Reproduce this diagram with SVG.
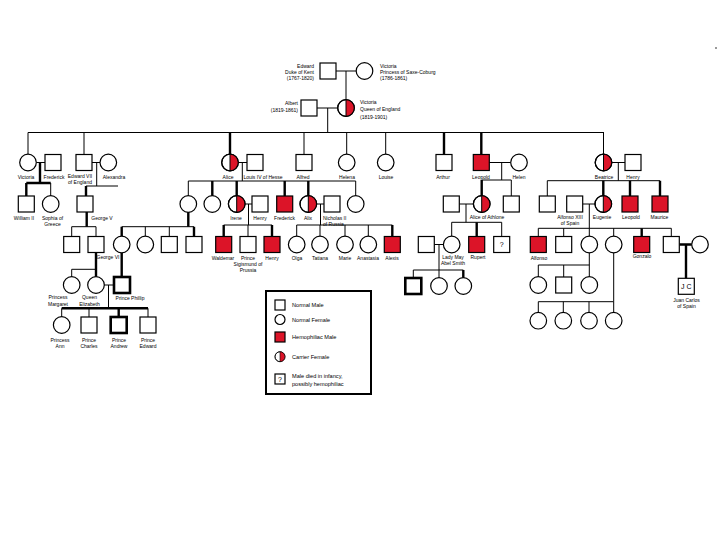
<svg xmlns="http://www.w3.org/2000/svg" xmlns:xlink="http://www.w3.org/1999/xlink" width="720" height="540" viewBox="0 0 720 540">
<style>
.bg{fill:#ffffff}
.sq{fill:#ffffff;stroke:#000;stroke-width:1.2}
.hm{fill:#dc1428;stroke:#000;stroke-width:1.2}
.ci{fill:#ffffff;stroke:#000;stroke-width:1.2}
.cf{fill:#dc1428;stroke:none}
.tk{stroke-width:2.6}
.ln path{fill:none;stroke:#000;stroke-width:1}
.ln path.k{stroke-width:2.4}
text{font-family:"Liberation Sans",Arial,sans-serif;font-size:5px;fill:#000}
.m{text-anchor:middle}
.e{text-anchor:end}
.lg{font-size:5.6px}
.q{font-size:7px;text-anchor:middle}
</style>
<defs>
<rect id="s" x="-8" y="-8" width="16" height="16" class="sq"/>
<rect id="h" x="-8" y="-8" width="16" height="16" class="hm"/>
<rect id="st" x="-8" y="-8" width="16" height="16" class="sq tk"/>
<circle id="c" r="8.3" class="ci"/>
<g id="cr"><circle r="8.3" class="ci"/><path d="M0,-8.3 A8.3,8.3 0 0 1 0,8.3 Z" class="cf"/><path d="M0,-8.3 V8.3" stroke="#000" stroke-width="1"/><circle r="8.3" fill="none" stroke="#000" stroke-width="1.2"/></g>
</defs>
<rect class="bg" x="0" y="0" width="720" height="540"/>
<path d="M715,48 H717" stroke="#000" stroke-width="0.8"/>

<g id="connectors" class="ln">
<path d="M336,71 H356.2 M346,71 V99.7"/>
<path d="M317,108 H337.7 M327.7,108 V132.5"/>
<path d="M28,132.5 H604"/>
<path d="M28,132.5 V154.2 M84,132.5 V154.5 M304,132.5 V154.5 M346.7,132.5 V154.2 M385.7,132.5 V154.2 M603.5,132.5 V154.2"/>
<path class="k" d="M230,132.5 V154.2 M444,132.5 V154.5 M481.3,132.5 V154.5"/>
<path d="M36.3,162.5 H45"/>
<path class="k" d="M40,162.5 V183 M26.3,183 H50.7 M26.3,183 V196"/>
<path d="M50.7,183 V195.7"/>
<path d="M92,162.5 H100 M96.7,162.5 V186 M86,186 H118"/>
<path class="k" d="M86,186 V196 M86.7,212 V226.7"/>
<path d="M71.7,226.7 H96 M71.7,226.7 V236.5 M96,226.7 V236.5"/>
<path d="M238.3,162.5 H247 M242.3,162.5 V181 M188.3,181 H355.7 M188.3,181 V195.7 M355.7,181 V195.7"/>
<path class="k" d="M212.3,181 V195.7 M236.7,181 V195.7 M284.7,181 V196 M308.3,181 V195.7"/>
<path class="k" d="M188.3,212.3 V226.7 M121.7,226.7 V236.2 M194,226.7 V236.5"/>
<path d="M121.7,226.7 H194 M145.3,226.7 V236.2 M169.3,226.7 V236.5"/>
<path d="M245,204 H252 M248.5,204 V225 M223.7,225 H272 M248,225 V236.5"/>
<path class="k" d="M223.7,225 V236.5 M272,225 V236.5"/>
<path d="M316.6,204 H324 M320.5,204 V225 M296.7,225 H392.3 M296.7,225 V236.2 M320,225 V236.2 M345,225 V236.2 M368.3,225 V236.2"/>
<path class="k" d="M392.3,225 V236.5"/>
<path class="k" d="M96,252.5 V269.3 M96,269.3 V276.7 M121.7,252.8 V277"/>
<path d="M71.7,269.3 H96 M71.7,269.3 V276.7"/>
<path d="M103.8,285 H114 M108.5,285 V308.3"/>
<path class="k" d="M61.7,308.3 H148 M118.7,308.3 V317"/>
<path d="M61.7,308.3 V316.7 M89,308.3 V317 M148,308.3 V317"/>
<path d="M489.3,162.5 H510.7 M501.7,162.5 V180 M481.7,180 H511.3 M511.3,180 V196"/>
<path class="k" d="M481.7,180 V195.7"/>
<path d="M459.3,204 H473.4 M466,204 V222.3 M451.7,222.3 H501.7 M451.7,222.3 V236.2 M501.7,222.3 V236.5"/>
<path class="k" d="M476.7,222.3 V236.5"/>
<path d="M434.3,244.5 H443.4 M439,244.5 V270 M413.3,270 H463.3 M413.3,270 V278 M439,270 V277.7"/>
<path class="k" d="M463.3,270 V277.7"/>
<path d="M611.8,162.5 H625 M618.3,162.5 V180.7 M547.3,180.7 H660 M547.3,180.7 V196"/>
<path class="k" d="M603.3,180.7 V195.7 M630,180.7 V196 M660,180.7 V196"/>
<path d="M582.7,204 H595 M589.3,204 V228.3 M538.3,228.3 H671.3 M538.3,228.3 V236.5 M563.7,228.3 V236.5 M589.3,228.3 V236.2 M613.7,228.3 V236.2 M671.3,228.3 V236.5"/>
<path class="k" d="M641.7,228.3 V236.5"/>
<path class="k" d="M679.3,244.5 H691.7 M686,244.5 V278.3"/>
<path d="M589.3,252.8 V265 M538.3,265 H589.3 M538.3,265 V276.7 M563.7,265 V277 M589.3,265 V276.7"/>
<path d="M613.7,252.8 V301.7 M538.3,301.7 H613.7 M538.3,301.7 V312.4 M563.3,301.7 V312.4 M589,301.7 V312.4 M613.7,301.7 V312.4"/>
</g>

<g id="edward-kent"><use href="#s" x="328" y="71"/><text class="e" x="314" y="67.5">Edward</text><text class="e" x="314" y="73.5">Duke of Kent</text><text class="e" x="314" y="80">(1767-1820)</text></g>
<g id="victoria-saxe"><use href="#c" x="364.5" y="71"/><text x="380" y="67.5">Victoria</text><text x="380" y="73.5">Princess of Saxe-Coburg</text><text x="380" y="80">(1786-1861)</text></g>
<g id="albert"><use href="#s" x="309" y="108"/><text class="e" x="298" y="105">Albert</text><text class="e" x="298" y="112">(1819-1861)</text></g>
<g id="queen-victoria"><use href="#cr" x="346" y="108"/><text x="360" y="104">Victoria</text><text x="360" y="111">Queen of England</text><text x="360" y="118.5">(1819-1901)</text></g>

<g id="victoria"><use href="#c" x="28" y="162.5"/><text class="m" x="26" y="178.5">Victoria</text></g>
<g id="frederick"><use href="#s" x="53" y="162.5"/><text class="m" x="54" y="178.5">Frederick</text></g>
<g id="edward7"><use href="#s" x="84" y="162.5"/><text class="m" x="80" y="178.3">Edward VII</text><text class="m" x="80" y="184">of England</text></g>
<g id="alexandra"><use href="#c" x="108.3" y="162.5"/><text class="m" x="114" y="178.5">Alexandra</text></g>
<g id="alice"><use href="#cr" x="230" y="162.5"/><text class="m" x="228" y="178.5">Alice</text></g>
<g id="louis"><use href="#s" x="255" y="162.5"/><text class="m" x="263" y="178.5">Louis IV of Hesse</text></g>
<g id="alfred"><use href="#s" x="304" y="162.5"/><text class="m" x="303" y="178.5">Alfred</text></g>
<g id="helena"><use href="#c" x="346.7" y="162.5"/><text class="m" x="347" y="178.5">Helena</text></g>
<g id="louise"><use href="#c" x="385.7" y="162.5"/><text class="m" x="386" y="178.5">Louise</text></g>
<g id="arthur"><use href="#s" x="444" y="162.5"/><text class="m" x="443" y="178.5">Arthur</text></g>
<g id="leopold"><use href="#h" x="481.3" y="162.5"/><text class="m" x="481" y="178.5">Leopold</text></g>
<g id="helen"><use href="#c" x="519" y="162.5"/><text class="m" x="519" y="178.5">Helen</text></g>
<g id="beatrice"><use href="#cr" x="603.5" y="162.5"/><text class="m" x="604" y="178.5">Beatrice</text></g>
<g id="henry-b"><use href="#s" x="633" y="162.5"/><text class="m" x="633" y="178.5">Henry</text></g>

<g id="william2"><use href="#s" x="26.3" y="204"/><text class="m" x="24" y="219.5">William II</text></g>
<g id="sophia"><use href="#c" x="50.7" y="204"/><text class="m" x="52.5" y="219.5">Sophia of</text><text class="m" x="52.5" y="225.5">Greece</text></g>
<g id="george5"><use href="#s" x="85" y="204"/><text class="m" x="102" y="219.5">George V</text></g>
<g id="victoria-hesse"><use href="#c" x="188.3" y="204"/></g>
<g id="elizabeth-hesse"><use href="#c" x="212.3" y="204"/></g>
<g id="irene"><use href="#cr" x="236.7" y="204"/><text class="m" x="236" y="219.5">Irene</text></g>
<g id="henry-p"><use href="#s" x="260" y="204"/><text class="m" x="260" y="219.5">Henry</text></g>
<g id="frederick-h"><use href="#h" x="284.7" y="204"/><text class="m" x="284.5" y="219.5">Frederick</text></g>
<g id="alix"><use href="#cr" x="308.3" y="204"/><text class="m" x="308" y="219.5">Alix</text></g>
<g id="nicholas"><use href="#s" x="332" y="204"/><text x="323" y="219.5">Nicholas II</text><text x="323" y="225.5">of Russia</text></g>
<g id="mary-hesse"><use href="#c" x="355.7" y="204"/></g>
<g id="athlone"><use href="#s" x="451.3" y="204"/></g>
<g id="alice-athlone"><use href="#cr" x="481.7" y="204"/><text class="m" x="487" y="218.5">Alice of Athlone</text></g>
<g id="charles-edward"><use href="#s" x="511.3" y="204"/></g>
<g id="alexander"><use href="#s" x="547.3" y="204"/></g>
<g id="alfonso13"><use href="#s" x="574.7" y="204"/><text class="m" x="570" y="218.5">Alfonso XIII</text><text class="m" x="570" y="224.5">of Spain</text></g>
<g id="eugenie"><use href="#cr" x="603.3" y="204"/><text class="m" x="602" y="218.5">Eugenie</text></g>
<g id="leopold-b"><use href="#h" x="630" y="204"/><text class="m" x="631" y="218.5">Leopold</text></g>
<g id="maurice"><use href="#h" x="660" y="204"/><text class="m" x="659.5" y="218.5">Maurice</text></g>

<g id="edward8"><use href="#s" x="71.7" y="244.5"/></g>
<g id="george6"><use href="#s" x="96" y="244.5"/><text class="m" x="108" y="258.5">George VI</text></g>
<g id="alice-b"><use href="#c" x="121.7" y="244.5"/></g>
<g id="louise-b"><use href="#c" x="145.3" y="244.5"/></g>
<g id="george-b"><use href="#s" x="169.3" y="244.5"/></g>
<g id="louis-b"><use href="#s" x="194" y="244.5"/></g>
<g id="waldemar"><use href="#h" x="223.7" y="244.5"/><text class="m" x="223" y="259.5">Waldemar</text></g>
<g id="sigismund"><use href="#s" x="248" y="244.5"/><text class="m" x="248" y="259.5">Prince</text><text class="m" x="248" y="265.5">Sigismund of</text><text class="m" x="248" y="271.5">Prussia</text></g>
<g id="henry-i"><use href="#h" x="272" y="244.5"/><text class="m" x="272" y="259.5">Henry</text></g>
<g id="olga"><use href="#c" x="296.7" y="244.5"/><text class="m" x="297" y="259.5">Olga</text></g>
<g id="tatiana"><use href="#c" x="320" y="244.5"/><text class="m" x="320" y="259.5">Tatiana</text></g>
<g id="marie"><use href="#c" x="345" y="244.5"/><text class="m" x="345" y="259.5">Marie</text></g>
<g id="anastasia"><use href="#c" x="368.3" y="244.5"/><text class="m" x="368" y="259.5">Anastasia</text></g>
<g id="alexis"><use href="#h" x="392.3" y="244.5"/><text class="m" x="392" y="259.5">Alexis</text></g>
<g id="abel-smith"><use href="#s" x="426.3" y="244.5"/></g>
<g id="lady-may"><use href="#c" x="451.7" y="244.5"/><text class="m" x="453" y="259">Lady May</text><text class="m" x="453" y="264.5">Abel Smith</text></g>
<g id="rupert"><use href="#h" x="476.7" y="244.5"/><text class="m" x="478" y="259">Rupert</text></g>
<g id="unknown-male"><use href="#s" x="501.7" y="244.5"/><text class="q" x="501.7" y="247">?</text></g>
<g id="alfonso"><use href="#h" x="538.3" y="244.5"/><text class="m" x="539" y="259.5">Alfonso</text></g>
<g id="jaime"><use href="#s" x="563.7" y="244.5"/></g>
<g id="beatriz"><use href="#c" x="589.3" y="244.5"/></g>
<g id="maria-cristina"><use href="#c" x="613.7" y="244.5"/></g>
<g id="gonzalo"><use href="#h" x="641.7" y="244.5"/><text class="m" x="642" y="257.5">Gonzalo</text></g>
<g id="juan"><use href="#s" x="671.3" y="244.5"/></g>
<g id="juan-wife"><use href="#c" x="700" y="244.5"/></g>

<g id="margaret"><use href="#c" x="71.7" y="285"/><text class="m" x="58" y="299">Princess</text><text class="m" x="58" y="305.5">Margaret</text></g>
<g id="elizabeth2"><use href="#c" x="96" y="285"/><text class="m" x="89.5" y="299">Queen</text><text class="m" x="89.5" y="305.5">Elizabeth</text></g>
<g id="philip"><use href="#st" x="122" y="285"/><text class="m" x="130" y="299.5">Prince Phillip</text></g>
<g id="lm-son"><use href="#st" x="413.3" y="286"/></g>
<g id="lm-d1"><use href="#c" x="439" y="286"/></g>
<g id="lm-d2"><use href="#c" x="463.3" y="286"/></g>
<g id="bz-1"><use href="#c" x="538.3" y="285"/></g>
<g id="bz-2"><use href="#s" x="563.7" y="285"/></g>
<g id="bz-3"><use href="#c" x="589.3" y="285"/></g>
<g id="juan-carlos"><use href="#s" x="686.3" y="286.3"/><text class="q" x="686.3" y="288.8">J C</text><text class="m" x="686.5" y="301.5">Juan Carlos</text><text class="m" x="686.5" y="307.5">of Spain</text></g>

<g id="ann"><use href="#c" x="61.7" y="325"/><text class="m" x="60" y="342">Princess</text><text class="m" x="60" y="348">Ann</text></g>
<g id="charles"><use href="#s" x="89" y="325"/><text class="m" x="89" y="342">Prince</text><text class="m" x="89" y="348">Charles</text></g>
<g id="andrew"><use href="#st" x="118.7" y="325"/><text class="m" x="119" y="342">Prince</text><text class="m" x="119" y="348">Andrew</text></g>
<g id="edward-p"><use href="#s" x="148" y="325"/><text class="m" x="148" y="342">Prince</text><text class="m" x="148" y="348">Edward</text></g>
<g id="mc-1"><use href="#c" x="538.3" y="320.7"/></g>
<g id="mc-2"><use href="#c" x="563.3" y="320.7"/></g>
<g id="mc-3"><use href="#c" x="589" y="320.7"/></g>
<g id="mc-4"><use href="#c" x="613.7" y="320.7"/></g>

<g id="legend">
<rect x="266" y="291" width="105" height="103" fill="#fff" stroke="#000" stroke-width="2"/>
<rect x="275" y="300" width="10" height="10" class="sq"/><text class="lg" x="292" y="307">Normal Male</text>
<circle cx="280" cy="319.5" r="5" class="ci"/><text class="lg" x="292" y="321.5">Normal Female</text>
<rect x="275" y="332" width="10" height="10" class="hm"/><text class="lg" x="292" y="339">Hemophiliac Male</text>
<g transform="translate(280,356.7) scale(0.6)"><use href="#cr"/></g><text class="lg" x="292" y="359">Carrier Female</text>
<rect x="275" y="374" width="10" height="10" class="sq"/><text class="q" x="280" y="382">?</text>
<text class="lg" x="292" y="378">Male died in infancy,</text><text class="lg" x="292" y="386">possibly hemophiliac</text>
</g>
</svg>
